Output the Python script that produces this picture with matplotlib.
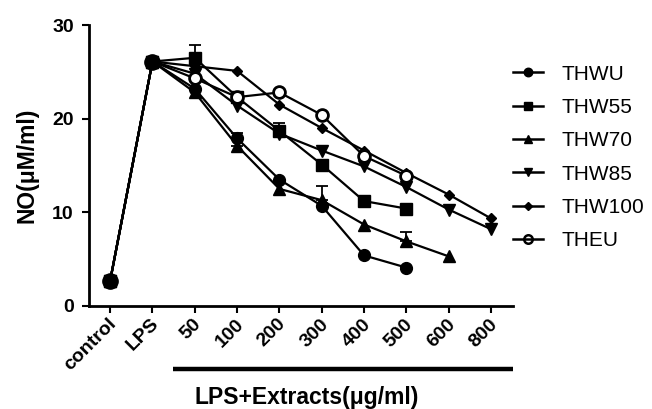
import matplotlib
matplotlib.use("Agg")
import matplotlib.pyplot as plt
from matplotlib.lines import Line2D
import matplotlib.transforms as mtransforms
import numpy as np

plt.rcParams['font.family'] = ['Liberation Sans', 'DejaVu Sans']

categories = ["control", "LPS", "50", "100", "200", "300", "400", "500", "600", "800"]
control_val = 2.7
lps_val = 26.1

# values for the extract doses 50..800
THWU   = [23.2, 17.9, 13.5, 10.7, 5.4, 4.1]
THW55  = [26.5, 22.3, 18.7, 15.1, 11.2, 10.4]
THW70  = [22.8, 17.1, 12.5, 11.3, 8.7, 6.9, 5.3]
THW85  = [24.8, 21.4, 18.4, 16.6, 14.9, 12.7, 10.3, 8.2]
THW100 = [25.6, 25.1, 21.5, 19.0, 16.6, 14.2, 11.9, 9.35]
THEU   = [24.3, 22.3, 22.8, 20.4, 16.0, 13.9]

# upper error bars (dose index -> value)
err_THW55 = {0: 1.4, 2: 0.8}
err_THW70 = {1: 1.4, 3: 1.5, 5: 1.0}

series = [
    ("THWU", THWU, 'o', 'black', {}),
    ("THW55", THW55, 's', 'black', err_THW55),
    ("THW70", THW70, '^', 'black', err_THW70),
    ("THW85", THW85, 'v', 'black', {}),
    ("THW100", THW100, 'D', 'black', {}),
    ("THEU", THEU, 'o', 'white', {}),
]

fig = plt.figure(figsize=(6.52, 4.09), dpi=100)
ax = fig.add_axes([89 / 652, 103 / 409, 424 / 652, 281 / 409])

msizes = {'o': 8.5, 's': 8, '^': 8.5, 'v': 8.5, 'D': 5.5}
handles = []
for name, vals, mk, fc, errs in series:
    y = [control_val, lps_val] + vals
    x = np.arange(len(y))
    ax.plot(x, y, color='black', lw=1.6, marker=mk, markersize=msizes[mk],
            markerfacecolor=fc, markeredgecolor='black',
            markeredgewidth=2 if fc == 'white' else 1,
            zorder=3 if fc == 'white' else 2)
    if errs:
        ex = [i + 2 for i in errs]
        ey = [vals[i] for i in errs]
        eu = [errs[i] for i in errs]
        ax.errorbar(ex, ey, yerr=[np.zeros(len(eu)), eu], fmt='none', ecolor='black',
                    elinewidth=1.3, capsize=4, capthick=1.3, zorder=1)
    handles.append(Line2D([0], [0], color='black', lw=1.8, marker=mk,
                          markersize=msizes[mk] * 0.72,
                          markerfacecolor='none' if fc == 'white' else 'black',
                          markeredgecolor='black',
                          markeredgewidth=1.8 if fc == 'white' else 1))

# shared control / LPS points drawn larger
ax.plot([0, 1], [control_val, lps_val], 'o', color='black', markersize=11, zorder=4)

ax.set_xlim(-0.5, 9.52)
ax.set_ylim(0, 30)
ax.set_yticks([0, 10, 20, 30])
ax.set_xticks(np.arange(len(categories)))
ax.tick_params(axis='both', width=1.5, length=5, direction='out', labelsize=14)
ax.tick_params(axis='y', pad=6)
ax.tick_params(axis='x', pad=4)
ax.set_xticklabels(categories)
for s in ['top', 'right']:
    ax.spines[s].set_visible(False)
for s in ['left', 'bottom']:
    ax.spines[s].set_linewidth(2)

ax.set_ylabel("NO(μM/ml)", fontsize=16.5, fontweight='bold', labelpad=10)

# bar under dose labels
bt = ax.get_xaxis_transform()
ax.plot([1.49, 9.52], [-0.224, -0.224], color='black', transform=bt,
        lw=3.2, clip_on=False, solid_capstyle='butt')
ax.text(4.645, -0.349, "LPS+Extracts(μg/ml)", transform=bt, ha='center',
        va='baseline', fontsize=16.5, fontweight='bold', clip_on=False)

names = [s[0] for s in series]
fig.legend(handles, names, loc='upper left', bbox_to_anchor=(513 / 652, 0.842),
           frameon=False, fontsize=15, handlelength=1.45, labelspacing=0.69,
           handletextpad=0.9, borderpad=0, borderaxespad=0)

fig.canvas.draw()
shift = mtransforms.ScaledTranslation(4 / 100, -3 / 100, fig.dpi_scale_trans)
for lab in ax.get_xticklabels():
    lab.set_rotation(45)
    lab.set_ha('right')
    lab.set_va('center')
    lab.set_rotation_mode('anchor')
    lab.set_fontweight('bold')
    lab.set_fontsize(14)
    lab.set_transform(lab.get_transform() + shift)
for lab in ax.get_yticklabels():
    lab.set_fontweight('bold')
    lab.set_fontsize(14)

fig.savefig("out.png", dpi=100)
